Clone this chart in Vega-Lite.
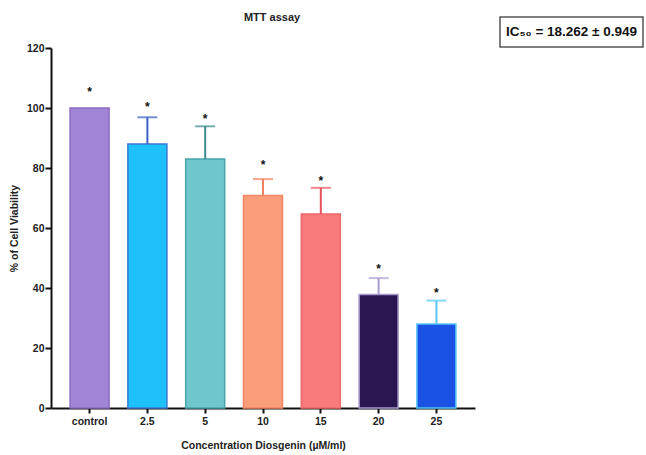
{
  "$schema": "https://vega.github.io/schema/vega-lite/v6.json",
  "background": "white",
  "padding": {"left": 9, "top": 12, "right": 5, "bottom": 5},
  "bounds": "flush",
  "spacing": 31,
  "config": {
    "view": {"stroke": null},
    "font": "Liberation Sans",
    "axis": {
      "domainColor": "#111",
      "domainWidth": 2,
      "tickColor": "#111",
      "tickWidth": 2,
      "grid": false,
      "labelFont": "Liberation Sans",
      "labelFontWeight": "bold",
      "labelColor": "#222",
      "labelFontSize": 10.5,
      "titleFont": "Liberation Sans",
      "titleFontWeight": "bold",
      "titleColor": "#222",
      "titleFontSize": 10.5
    }
  },
  "vconcat": [
    {
      "spacing": 24,
      "hconcat": [
        {
          "width": 424,
          "height": 30,
          "title": {"text": "MTT assay", "fontSize": 11, "fontWeight": "bold", "color": "#222", "offset": -6, "dx": 9},
          "data": {"values": [{"t": ""}]},
          "mark": {"type": "text"},
          "encoding": {"text": {"field": "t", "type": "nominal"}}
        },
        {
          "width": 143,
          "height": 30,
          "view": {"stroke": "#555", "strokeWidth": 1.5},
          "data": {"values": [{"label": "IC₅₀ = 18.262 ± 0.949"}]},
          "mark": {"type": "text", "fontSize": 13.5, "fontWeight": "bold", "font": "Liberation Sans", "color": "#111"},
          "encoding": {"text": {"field": "label", "type": "nominal"}}
        }
      ]
    },
    {
      "width": 424,
      "height": 360,
      "data": {
        "values": [
          {"conc": "control", "mean": 100, "upper": 100, "star": 106.3},
          {"conc": "2.5", "mean": 88, "upper": 96.9, "star": 101.3},
          {"conc": "5", "mean": 83, "upper": 93.9, "star": 97.2},
          {"conc": "10", "mean": 70.8, "upper": 76.3, "star": 81.9},
          {"conc": "15", "mean": 64.7, "upper": 73.4, "star": 76.6},
          {"conc": "20", "mean": 37.8, "upper": 43.3, "star": 47.3},
          {"conc": "25", "mean": 28, "upper": 35.8, "star": 39.4}
        ]
      },
      "encoding": {
        "x": {
          "field": "conc",
          "type": "nominal",
          "sort": null,
          "scale": {"paddingInner": 0.325, "paddingOuter": 0.33},
          "axis": {"title": "Concentration Diosgenin (µM/ml)", "labelAngle": 0, "tickSize": 5, "labelPadding": 3, "titlePadding": 14}
        }
      },
      "layer": [
        {
          "mark": {"type": "bar", "strokeWidth": 1.5},
          "encoding": {
            "y": {
              "field": "mean",
              "type": "quantitative",
              "scale": {"domain": [0, 120]},
              "axis": {"title": "% of Cell Viability", "values": [0, 20, 40, 60, 80, 100, 120], "tickSize": 6, "labelPadding": 1, "titlePadding": 7}
            },
            "fill": {
              "field": "conc", "type": "nominal", "sort": null, "legend": null,
              "scale": {"domain": ["control", "2.5", "5", "10", "15", "20", "25"], "range": ["#a184d6", "#1ec0fa", "#6fc6cc", "#fa9d7a", "#f97a7a", "#2a1650", "#1a52e6"]}
            },
            "stroke": {
              "field": "conc", "type": "nominal", "sort": null, "legend": null,
              "scale": {"domain": ["control", "2.5", "5", "10", "15", "20", "25"], "range": ["#8c6cc4", "#3a78d0", "#4aa4aa", "#f08664", "#ee6a6a", "#a99bd0", "#56c5f5"]}
            }
          }
        },
        {
          "transform": [{"filter": "datum.upper > datum.mean"}],
          "mark": {"type": "rule", "strokeWidth": 2},
          "encoding": {
            "y": {"field": "mean", "type": "quantitative"},
            "y2": {"field": "upper"},
            "color": {
              "field": "conc", "type": "nominal", "sort": null, "legend": null,
              "scale": {"domain": ["control", "2.5", "5", "10", "15", "20", "25"], "range": ["#8c6cc4", "#3a60c8", "#3a8c8e", "#f0825e", "#e8505e", "#a99bd0", "#56c5f5"]}
            }
          }
        },
        {
          "transform": [{"filter": "datum.upper > datum.mean"}],
          "mark": {"type": "tick", "size": 20, "thickness": 2},
          "encoding": {
            "y": {"field": "upper", "type": "quantitative"},
            "color": {"field": "conc", "type": "nominal", "sort": null, "legend": null}
          }
        },
        {
          "mark": {"type": "text", "text": "*", "fontSize": 12, "fontWeight": "bold", "color": "#111", "baseline": "middle", "dy": 3},
          "encoding": {
            "y": {"field": "star", "type": "quantitative"}
          }
        }
      ]
    }
  ]
}
